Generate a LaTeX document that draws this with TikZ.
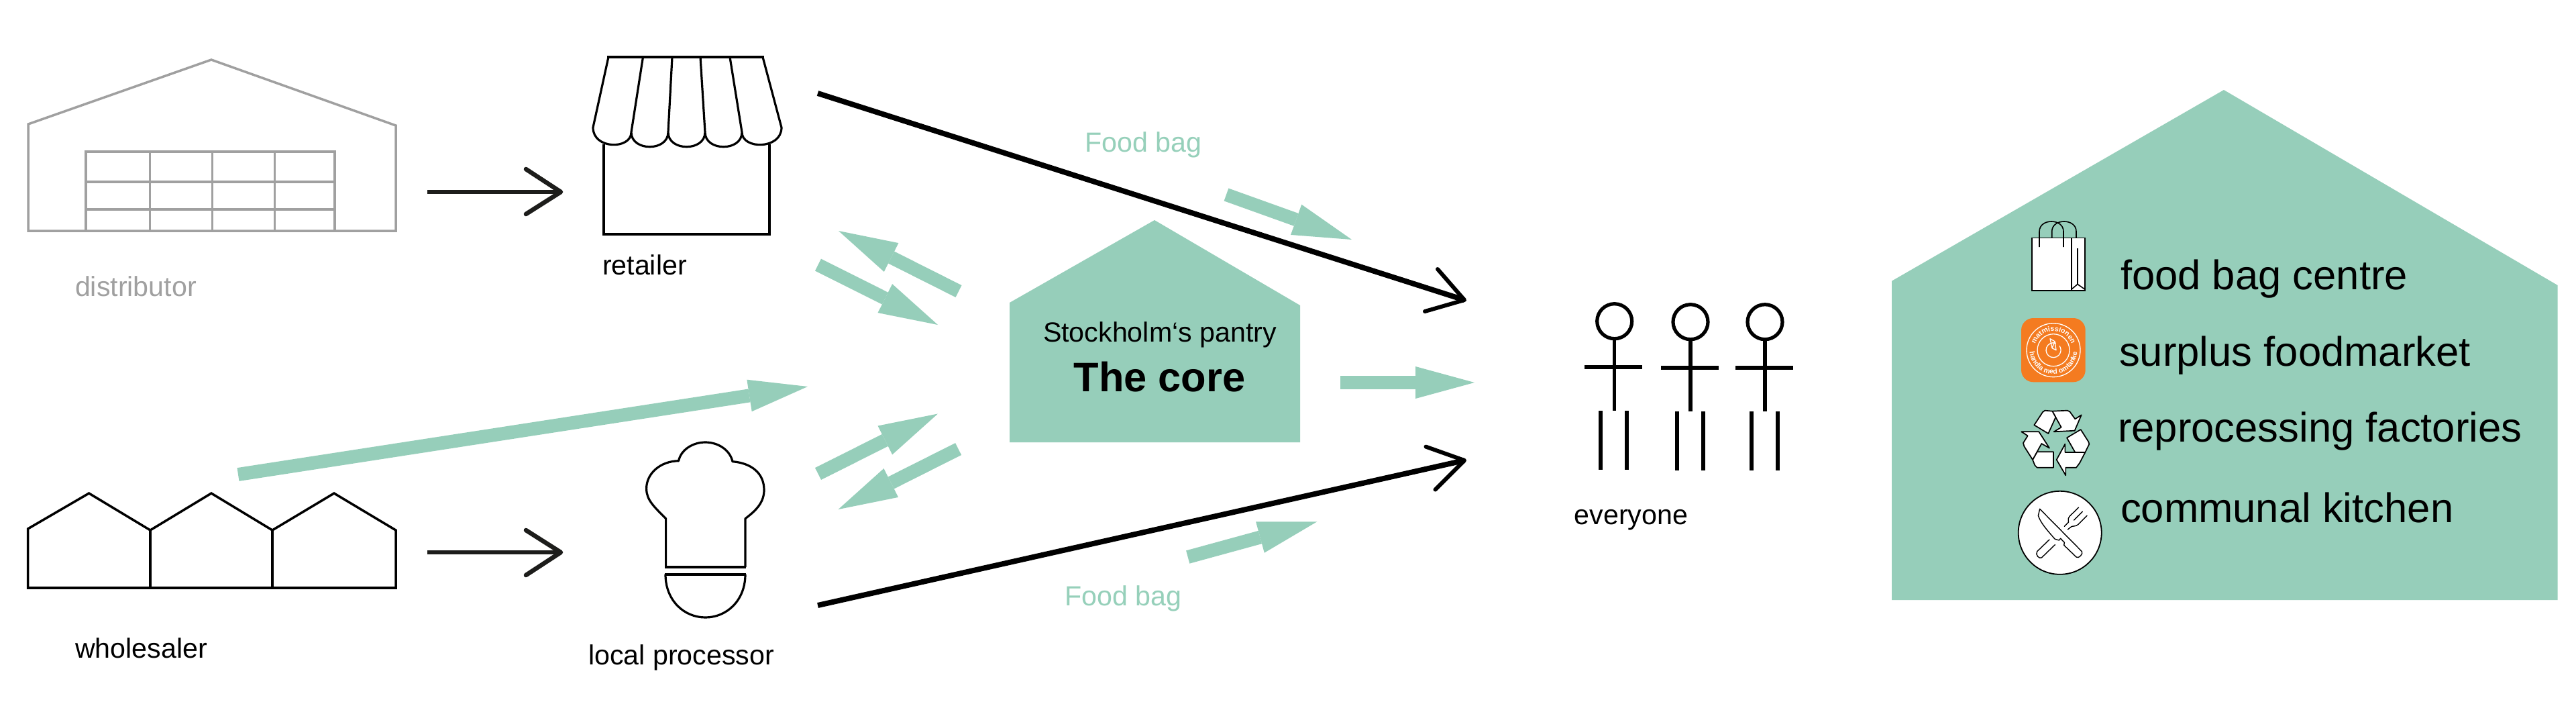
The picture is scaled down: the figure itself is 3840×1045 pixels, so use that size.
\documentclass[tikz,border=0pt]{standalone}
\usepackage{fontspec}
\setmainfont{Liberation Sans}
\usetikzlibrary{arrows.meta,decorations.text}
\definecolor{mint}{HTML}{96CEBA}
\definecolor{mintt}{HTML}{96D0BA}
\definecolor{graybld}{HTML}{A0A0A0}
\definecolor{ink}{HTML}{1D1D1B}
\definecolor{orangelogo}{HTML}{F47B20}
\newcommand{\fsz}[1]{\fontsize{#1}{#1}\selectfont}
\tikzset{
  lbl/.style={anchor=base west,inner sep=0pt,outer sep=0pt,text=black,xshift=-1pt,yshift=-.7pt},
  small/.style={lbl,font=\fsz{20.6pt}},
  big/.style={lbl,font=\fsz{30.8pt}},
  greenlbl/.style={small,text=mintt},
  graylbl/.style={small,text=graybld},
  greenarrow/.style={draw=mint,line width=10pt,-{Triangle[length=44pt,width=24pt,line width=0pt,fill=mint]}},
  icon/.style={draw=black,line width=1.75pt,line join=miter},
  grayicon/.style={draw=graybld,line width=1.75pt,line join=miter},
  flowline/.style={draw=ink,line width=3.3pt},
  flowhead/.style={draw=ink,line width=3.3pt,line cap=round,line join=round},
  mainline/.style={draw=black,line width=4pt},
  mainhead/.style={draw=black,line width=3pt,line cap=round,line join=round},
  person/.style={draw=black,line width=2.6pt},
  housefill/.style={fill=mint},
  fine/.style={draw=black,line width=.7pt,line cap=round,line join=round},
  logoline/.style={draw=white,line width=.65pt},
}
\begin{document}
\begin{tikzpicture}[x=.5pt,y=-.5pt]
\useasboundingbox (0,0) rectangle (3840,1045);
\fill[white] (0,0) rectangle (3840,1045);

% distributor
\draw[grayicon] (42,344) -- (42,185) -- (315,89) -- (590,187) -- (590,344) -- cycle;
\draw[grayicon] (128,344) -- (128,226) -- (499,226) -- (499,344);
\draw[grayicon,line width=1.5pt] (223,226) -- (223,344) (316,226) -- (316,344) (409,226) -- (409,344);
\draw[grayicon] (128,271) -- (499,271) (128,312) -- (499,312);
\node[graylbl] (distributor) at (114,440) {distributor};

% retailer
\draw[icon,line width=1.7pt,fill=white] (900,215) -- (900,349) -- (1147,349) -- (1147,215);
\draw[icon,line width=2.4pt] (900,349) -- (1147,349);
\draw[icon,line width=1.6pt,line join=round]
  (907,85) -- (884,190) .. controls (884,223) and (941,223) .. (941,197)
  .. controls (941,226) and (996,226) .. (996,197)
  .. controls (996,226) and (1051,226) .. (1051,197)
  .. controls (1051,226) and (1106,226) .. (1106,197)
  .. controls (1106,223) and (1165,223) .. (1165,190) -- (1137,85);
\draw[icon,line width=1.6pt] (958.5,85) -- (941,197) (1002,85) -- (996,197) (1044,85) -- (1051,197) (1088,85) -- (1106,197);
\draw[icon,line width=2.4pt] (905,85) -- (1139,85);
\node[small] (retailer) at (900,408) {retailer};

% wholesaler
\draw[icon,line join=miter] (41.5,876) -- (41.5,788) -- (132.6,735) -- (224,790) -- (315,735) -- (406,790) -- (498,735) -- (590,790) -- (590,876) -- cycle;
\draw[icon,line width=1.7pt] (224,790) -- (224,876) (406,790) -- (406,876);
\draw[icon,line width=2.4pt] (40,876) -- (592,876);
\node[small] (wholesaler) at (114,979) {wholesaler};

% local processor (chef hat)
\draw[icon,line width=1.6pt,line join=round] (992.6,845) -- (992.6,772.7)
  .. controls (975,755) and (963.6,745) .. (963.6,728)
  .. controls (963.6,705) and (985,687) .. (1011.6,686.7)
  .. controls (1015,670) and (1033,659) .. (1051.4,659)
  .. controls (1070,659) and (1088,670) .. (1092,687.7)
  .. controls (1120,690) and (1139,705) .. (1139,730)
  .. controls (1139,748) and (1128,760) .. (1111,772.7)
  -- (1111,845);
\draw[icon,line width=2.2pt] (991,845) -- (1112,845) (991,855.7) -- (1112,855.7);
\draw[icon,line width=1.6pt] (992,855.7) .. controls (992,895) and (1020,920) .. (1051.5,920)
  .. controls (1083,920) and (1111,895) .. (1111,855.7);
\node[small] (localproc) at (879,989) {local processor};

% small black arrows
\coordinate (f1a) at (637,286); \coordinate (f1b) at (836,286);
\coordinate (f1u) at (784,252); \coordinate (f1d) at (784,319);
\draw[flowline] (f1a) -- (f1b);
\draw[flowhead] (f1u) -- (f1b) -- (f1d);
\coordinate (f2a) at (637,823); \coordinate (f2b) at (836,823);
\coordinate (f2u) at (784,790); \coordinate (f2d) at (784,857);
\draw[flowline] (f2a) -- (f2b);
\draw[flowhead] (f2u) -- (f2b) -- (f2d);

% main black lines
\coordinate (m1a) at (1219,139); \coordinate (m1b) at (2183,447);
\coordinate (m1u) at (2143,401); \coordinate (m1d) at (2124,464);
\draw[mainline] (m1a) -- (m1b);
\draw[mainhead] (m1u) -- (m1b) -- (m1d);
\coordinate (m2a) at (1219,902); \coordinate (m2b) at (2183,686);
\coordinate (m2u) at (2125.5,665.6); \coordinate (m2d) at (2139.5,729.5);
\draw[mainline] (m2a) -- (m2b);
\draw[mainhead] (m2u) -- (m2b) -- (m2d);

% green arrows
\coordinate (g0a) at (355,707); \coordinate (g0b) at (1204,576);
\draw[greenarrow] (g0a) -- (g0b);
\coordinate (gAa) at (1429,434); \coordinate (gAb) at (1250,344);
\draw[greenarrow] (gAa) -- (gAb);
\coordinate (gBa) at (1219.5,394.6); \coordinate (gBb) at (1398,484);
\draw[greenarrow] (gBa) -- (gBb);
\coordinate (gCa) at (1219.5,706); \coordinate (gCb) at (1398,616.5);
\draw[greenarrow] (gCa) -- (gCb);
\coordinate (gDa) at (1428.6,669); \coordinate (gDb) at (1249.6,759);
\draw[greenarrow] (gDa) -- (gDb);
\coordinate (gEa) at (1998,570); \coordinate (gEb) at (2198,570);
\draw[greenarrow] (gEa) -- (gEb);
\coordinate (gFa) at (1828,290); \coordinate (gFb) at (2015,357);
\draw[greenarrow] (gFa) -- (gFb);
\coordinate (gGa) at (1770.7,830); \coordinate (gGb) at (1963.3,777.3);
\draw[greenarrow] (gGa) -- (gGb);

\node[greenlbl] (foodbagtop) at (1619,225.4) {Food bag};
\node[greenlbl] (foodbagbot) at (1589,901) {Food bag};

% core
\fill[housefill] (1505,659) -- (1505,451) -- (1721,328) -- (1938,455) -- (1938,659) -- cycle;
\node[small] (pantry) at (1557,508) {Stockholm‘s pantry};
\node[lbl,font=\fsz{30.7pt}\bfseries] (core) at (1602.6,582) {The core};

% everyone
\draw[person] (2406.7,478.7) circle[radius=13pt];
\draw[person] (2406.7,505) -- (2406.7,612) (2362,547) -- (2448,547) (2386,612) -- (2386,700) (2425,612) -- (2425,700);
\draw[person] (2520,479.7) circle[radius=13pt];
\draw[person] (2520,506) -- (2520,613) (2476,548) -- (2562,548) (2500,613) -- (2500,700.7) (2539,613) -- (2539,700.7);
\draw[person] (2631,479.7) circle[radius=13pt];
\draw[person] (2631,506) -- (2631,613) (2587,548) -- (2673,548) (2611,613) -- (2611,700.7) (2650,613) -- (2650,700.7);
\node[small] (everyone) at (2348.7,780) {everyone};

% right house
\fill[housefill] (2820,894) -- (2820,418.7) -- (3315,134) -- (3812.5,425) -- (3812.5,894) -- cycle;

% bag
\draw[fine,fill=white,line cap=butt,line join=miter,line width=.8pt] (3028.7,354.6) rectangle (3107.7,433);
\draw[fine,line cap=butt,line width=.8pt] (3088,354.6) -- (3088,433) (3097,370) -- (3097,423.5)
  (3088,431) -- (3097,423.5) -- (3107.7,431);
\draw[fine,line cap=butt,line width=.8pt] (3040,368) -- (3040,345) .. controls (3040,325) and (3076,325) .. (3076,345) -- (3076,368);
\draw[fine,line cap=butt,line width=.8pt] (3058.7,354.6) -- (3058.7,345) .. controls (3058.7,325) and (3095,325) .. (3095,345) -- (3095,354.6);
\node[big] (t1) at (3163,430) {food bag centre};

% logo
\fill[orangelogo,rounded corners=9pt] (3013,474) rectangle (3108.7,569.3);
\begin{scope}[shift={(3061,521.7)},x=.5pt,y=.5pt]
  \draw[logoline] (0,0) circle[radius=20pt];
  \draw[logoline] (0,0) circle[radius=12pt];
  \draw[logoline] (70:5.5pt) arc[start angle=70,end angle=395,radius=5.5pt];
  \draw[logoline,line join=round] (-5,17) -- (2,13) -- (4,0) -- (-2,3) -- cycle (2,13) -- (-2,3);
  \path[decorate,decoration={text along path,text align=center,
     text={|\color{white}\bfseries\fsz{5.3pt}|matmissionen}}]
     (165:14.2pt) arc[start angle=165,end angle=15,radius=14.2pt];
  \path[decorate,decoration={text along path,text align=center,
     text={|\color{white}\bfseries\fsz{5.3pt}|handla med omtanke}}]
     (178:17.8pt) arc[start angle=178,end angle=362,radius=17.8pt];
\end{scope}
\node[big] (t2) at (3161,544) {surplus foodmarket};

% recycle
\begin{scope}[shift={(3000,590)},x=1/6 pt,y=-1/6 pt]
  \tikzset{rec/.style={draw=black,line width=.85pt,fill=white,line join=round}}
  \draw[rec] (178,68) -- (245,65) -- (256,70) -- (280,103) -- (308,85) -- (278,155) -- (185,160) -- (218,140) -- cycle;
  \draw[rec] (97,130) -- (135,72) -- (145,65) -- (178,68) -- (193,95) -- (160,168) -- cycle;
  \draw[rec] (243,187) -- (305,150) -- (340,205) -- (343,215) -- (325,252) -- (280,252) -- cycle;
  \draw[rec] (325,252) -- (300,300) -- (285,320) -- (238,320) -- (238,355) -- (197,285) -- (235,215) -- (235,252) -- cycle;
  \draw[rec] (90,285) -- (110,250) -- (183,250) -- (183,320) -- (110,320) -- (100,310) -- cycle;
  \draw[rec] (40,160) -- (118,160) -- (165,233) -- (130,213) -- (90,285) -- (52,225) -- (48,210) -- (68,178) -- cycle;
\end{scope}
\node[big] (t3) at (3159,657) {reprocessing factories};

% plate
\draw[draw=black,line width=.9pt,fill=white] (3070.7,793.8) circle[radius=31pt];
\begin{scope}[shift={(3000,725)},x=1/6 pt,y=-1/6 pt]
  \draw[fine] (122,100) -- (310,290) .. controls (318,300) and (295,325) .. (285,315) -- (230,262) -- (232,250) -- (215,232) -- (208,240) -- (190,235)
     .. controls (150,190) and (125,160) .. (115,130) -- cycle;
  \draw[fine] (165,237) -- (110,290) .. controls (100,305) and (120,325) .. (130,318) -- (190,260);
  \draw[fine] (296,93) -- (255,133) .. controls (245,145) and (252,155) .. (250,160) -- (232,178);
  \draw[fine] (313,112) -- (275,150);
  \draw[fine] (333,130) -- (293,170) .. controls (280,180) and (268,175) .. (262,180) -- (247,192);
\end{scope}
\node[big] (t4) at (3163,777.5) {communal kitchen};
\end{tikzpicture}
\end{document}
